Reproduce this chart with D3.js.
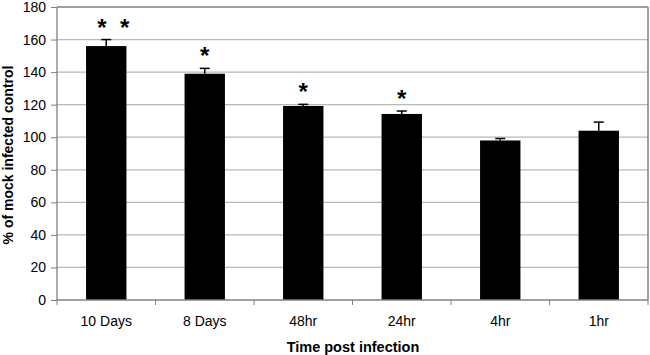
<!DOCTYPE html>
<html><head><meta charset="utf-8">
<script src="https://cdn.jsdelivr.net/npm/d3@7"></script>
<style>body{margin:0;background:#fff}svg{display:block}text{font-family:"Liberation Sans",Arial,sans-serif}</style>
</head><body>
<svg id="c" width="650" height="355"></svg>
<script>
const categories = ["10 Days","8 Days","48hr","24hr","4hr","1hr"];
const values = [156, 139, 119.2, 114.3, 98, 104];
const errors = [4, 3.3, 1, 1.8, 1.2, 5.3];
const stars = ["* *","*","*","*","",""];
const yTicks = [0,20,40,60,80,100,120,140,160,180];

const svg = d3.select("#c");
const m = {l:57, r:648, t:7, b:300};
const x = d3.scaleBand().domain(categories).range([m.l, m.r]).paddingInner(0.59).paddingOuter(0.295);
const y = d3.scaleLinear().domain([0,180]).range([m.b, m.t]);
const FF = '"Liberation Sans",Arial,sans-serif';

// gridlines
svg.append("g").selectAll("line").data(yTicks.filter(d=>d>0)).join("line")
  .attr("x1", m.l).attr("x2", m.r).attr("y1", d=>y(d)).attr("y2", d=>y(d))
  .attr("stroke", d=>d===180?"#808080":"#b8b8b8").attr("stroke-width", d=>d===180?1.5:1.2);
// right border
svg.append("line").attr("x1", m.r).attr("x2", m.r).attr("y1", m.t).attr("y2", m.b)
  .attr("stroke", "#808080").attr("stroke-width", 1.5);

// bars
svg.append("g").selectAll("rect").data(categories).join("rect")
  .attr("x", d=>x(d)).attr("width", x.bandwidth())
  .attr("y", (d,i)=>y(values[i])).attr("height", (d,i)=>y(0)-y(values[i]))
  .attr("fill", "#000");

// error bars
const eg = svg.append("g").attr("stroke", "#000").attr("stroke-width", 1.5);
categories.forEach((c,i)=>{
  const cx = x(c) + x.bandwidth()/2;
  eg.append("line").attr("x1", cx).attr("x2", cx).attr("y1", y(values[i])).attr("y2", y(values[i]+errors[i]));
  eg.append("line").attr("x1", cx-5).attr("x2", cx+5).attr("y1", y(values[i]+errors[i])).attr("y2", y(values[i]+errors[i]));
});

// stars
svg.append("g").selectAll("text").data(categories).join("text")
  .attr("x", (d,i)=>x(d)+x.bandwidth()/2 + (i===0?7:0))
  .attr("y", (d,i)=>y(values[i]+errors[i]) - 4)
  .attr("text-anchor", "middle").attr("font-size", 24).attr("font-weight", "bold")
  .text((d,i)=>stars[i].replace(" ", "\u00a0\u00a0"));

// y axis
const ya = svg.append("g").attr("transform", `translate(${m.l},0)`)
  .call(d3.axisLeft(y).tickValues(yTicks).tickSize(6).tickPadding(5));
ya.select(".domain").attr("stroke", "#808080").attr("stroke-width", 1.3).attr("d", `M0,${m.t}V${m.b}`);
ya.selectAll(".tick line").attr("stroke", "#808080");
ya.selectAll("text").attr("font-size", 14).attr("fill", "#000").attr("font-family", FF);

// x axis
const xa = svg.append("g").attr("transform", `translate(0,${m.b})`)
  .call(d3.axisBottom(x).tickSize(0).tickPadding(16.5));
xa.select(".domain").attr("stroke", "#808080").attr("stroke-width", 1.3).attr("d", `M${m.l},0H${m.r}`);
xa.selectAll("text").attr("font-size", 14).attr("fill", "#000").attr("font-family", FF);
const step = (m.r - m.l)/categories.length;
xa.append("g").selectAll("line").data(d3.range(categories.length+1)).join("line")
  .attr("x1", d=>m.l+d*step).attr("x2", d=>m.l+d*step).attr("y1", 0).attr("y2", 5)
  .attr("stroke", "#808080");

// titles
svg.append("text").attr("x", 353).attr("y", 352).attr("text-anchor", "middle")
  .attr("font-size", 14.5).attr("font-weight", "bold").text("Time post infection");
svg.append("text").attr("transform", `translate(13,155) rotate(-90)`).attr("text-anchor", "middle")
  .attr("font-size", 14).attr("font-weight", "bold").text("% of mock infected control");
</script>
</body></html>
